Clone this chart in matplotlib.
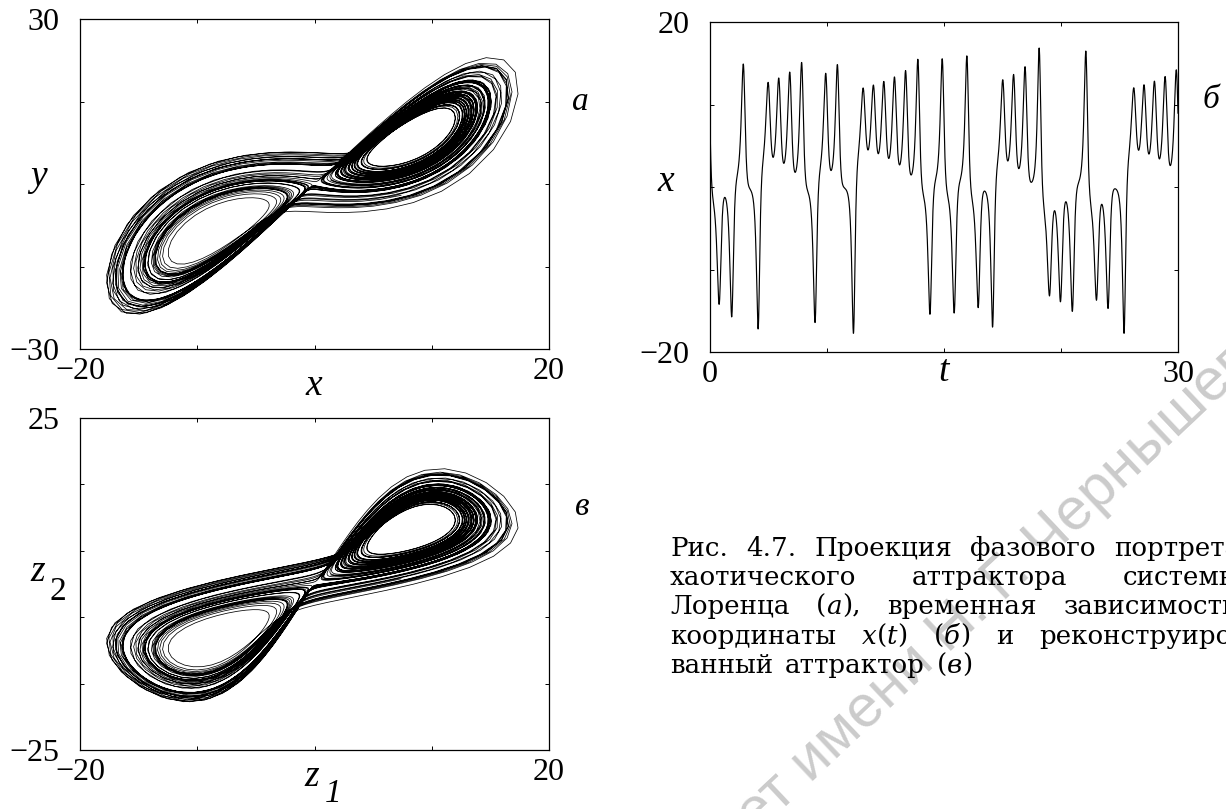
import numpy as np
import matplotlib
matplotlib.use('Agg')
import matplotlib.pyplot as plt

# Lorenz system (sigma, r, b) and the state at t = 0, fitted so that the
# sequence of x(t) extrema matches panel б
lorenz_params = [10.0, 28.0, 8.0 / 3.0]
start_state = [7.385062601273079, -2.057118663426739, 35.128509043135374]
dt = 0.01
t_series = 30.0      # panel б time window
t_portrait = 80.0    # length used for the phase portraits
delay = 0.10         # embedding delay for panel в

# axis ranges and tick positions
xlim_a, ylim_a = [-20, 20], [-30, 30]
xticks_a, yticks_a = [-20, -10, 0, 10, 20], [-30, -15, 0, 15, 30]
xlim_b, ylim_b = [0, 30], [-20, 20]
xticks_b, yticks_b = [0, 7.5, 15, 22.5, 30], [-20, -10, 0, 10, 20]
xlim_c, ylim_c = [-20, 20], [-25, 25]
xticks_c, yticks_c = [-20, -10, 0, 10, 20], [-25, -15, -5, 5, 15, 25]

caption = [
    [['Рис.'], ['4.7.'], ['Проекция'], ['фазового'], ['портрета']],
    [['хаотического'], ['аттрактора'], ['системы']],
    [['Лоренца'], ['(', '_a', '),'], ['временная'], ['зависимости']],
    [['координаты'], ['_x', '(', '_t', ')'], ['(', '_б', ')'], ['и'], ['реконструиро-']],
    [['ванный'], ['аттрактор'], ['(', '_в', ')']],
]
watermark = 'университет имени Н. Г. Чернышевского'

sigma, r, b = lorenz_params


def deriv(x, y, z):
    return sigma * (y - x), x * (r - z) - y, x * y - b * z


def step(x, y, z):
    h = dt
    ax, ay, az = deriv(x, y, z)
    bx, by, bz = deriv(x + 0.5 * h * ax, y + 0.5 * h * ay, z + 0.5 * h * az)
    cx, cy, cz = deriv(x + 0.5 * h * bx, y + 0.5 * h * by, z + 0.5 * h * bz)
    dx, dy, dz = deriv(x + h * cx, y + h * cy, z + h * cz)
    return (x + h / 6 * (ax + 2 * bx + 2 * cx + dx),
            y + h / 6 * (ay + 2 * by + 2 * cy + dy),
            z + h / 6 * (az + 2 * bz + 2 * cz + dz))


n = int(round((t_portrait + delay) / dt))
traj = np.empty((n + 1, 3))
x, y, z = (np.array([v]) for v in start_state)
traj[0] = start_state
for i in range(n):
    x, y, z = step(x, y, z)
    traj[i + 1] = x[0], y[0], z[0]
t = np.arange(n + 1) * dt

plt.rcParams['font.family'] = ['Liberation Serif', 'DejaVu Serif']
W, H = 1226, 809
fig = plt.figure(figsize=(W / 100, H / 100), dpi=100)
renderer = fig.canvas.get_renderer()


def box(left, top, right, bottom):
    return [left / W, 1 - bottom / H, (right - left) / W, (bottom - top) / H]


def put(px, py, s, **kw):
    return fig.text(px / W, 1 - py / H, s, **kw)


def style_axes(ax, xlim, ylim, xticks, yticks):
    ax.set_xlim(xlim)
    ax.set_ylim(ylim)
    ax.set_xticks(xticks)
    ax.set_yticks(yticks)
    fmt = lambda v: ('%g' % v).replace('-', '\u2212')
    ax.set_xticklabels([fmt(v) if i in (0, len(xticks) - 1) else '' for i, v in enumerate(xticks)])
    ax.set_yticklabels([fmt(v) if i in (0, len(yticks) - 1) else '' for i, v in enumerate(yticks)])
    ax.tick_params(direction='in', length=3, width=0.7, top=True, right=True, labelsize=23)
    ax.tick_params(axis='x', pad=6)
    ax.tick_params(axis='y', pad=15)
    for sp in ax.spines.values():
        sp.set_linewidth(0.9)
    ax.patch.set_alpha(0)


# watermark, light grey diagonal text
wm_size = 40
probe = put(0, 0, 'т имени Н. Г. Черныше', family='Liberation Sans', fontsize=wm_size)
wm_size *= 626 / probe.get_window_extent(renderer).width
probe.remove()
probe = put(0, 0, 'университе', family='Liberation Sans', fontsize=wm_size)
pre = probe.get_window_extent(renderer).width
probe.remove()
ang = np.radians(43.3)
put(780 - pre * np.cos(ang), 812 + pre * np.sin(ang), watermark, family='Liberation Sans',
    fontsize=wm_size, color='#cbcbcb', rotation=43.3, rotation_mode='anchor',
    ha='left', va='baseline', zorder=0)

# (а) phase portrait x-y
ax_a = fig.add_axes(box(80, 19, 549, 349))
keep = t <= t_portrait
ax_a.plot(traj[keep, 0][::2], traj[keep, 1][::2], color='k', lw=0.55)
style_axes(ax_a, xlim_a, ylim_a, xticks_a, yticks_a)

# (б) time series x(t)
ax_b = fig.add_axes(box(710, 22, 1178, 352))
ser = t <= t_series + 1e-9
ax_b.plot(t[ser], traj[ser, 0], color='k', lw=0.85)
style_axes(ax_b, xlim_b, ylim_b, xticks_b, yticks_b)

# (в) reconstructed attractor z1 = x(t), z2 = x(t + delay)
ax_c = fig.add_axes(box(80, 418, 549, 750))
shift = int(round(delay / dt))
z1 = traj[:, 0][:-shift]
z2 = traj[:, 0][shift:]
m = t[:-shift] <= t_portrait
ax_c.plot(z1[m][::2], z2[m][::2], color='k', lw=0.55)
style_axes(ax_c, xlim_c, ylim_c, xticks_c, yticks_c)

# axis labels and panel letters
lab = dict(fontsize=27, style='italic', ha='center', va='center')
put(314, 386, 'x', **lab)
put(38, 177, 'y', **lab)
put(666, 182, 'x', **lab)
put(944, 372, 't', **lab)
put(38, 572, 'z', **lab)
put(58, 592, '2', fontsize=24, ha='center', va='center')
put(312, 777, 'z', **lab)
put(333, 794, '1', fontsize=24, style='italic', ha='center', va='center')
put(580, 102, 'а', fontsize=24, style='italic', ha='center', va='center')
put(1211, 100, 'б', fontsize=24, style='italic', ha='center', va='center')
put(582, 507, 'в', fontsize=24, style='italic', ha='center', va='center')


# caption, justified like the book text
def caption_line(words, yb, x0, right=None, gap=12, size=18.8):
    placed = []
    for word in words:
        parts = []
        for s in word:
            it = s.startswith('_')
            tt = put(0, yb, s[1:] if it else s, fontsize=size, family='DejaVu Serif',
                     style='italic' if it else 'normal', ha='left', va='baseline')
            parts.append((tt, tt.get_window_extent(renderer).width))
        placed.append(parts)
    widths = [sum(w for _, w in p) for p in placed]
    if right is not None:
        gap = (right - x0 - sum(widths)) / (len(words) - 1)
    px = x0
    for parts in placed:
        for tt, w in parts:
            tt.set_x(px / W)
            px += w
        px += gap


baselines = [556, 585, 614, 644, 673]
for k, (words, yb) in enumerate(zip(caption, baselines)):
    caption_line(words, yb, 670, right=1240 if k < len(caption) - 1 else None)

fig.savefig('out.png', dpi=100)
